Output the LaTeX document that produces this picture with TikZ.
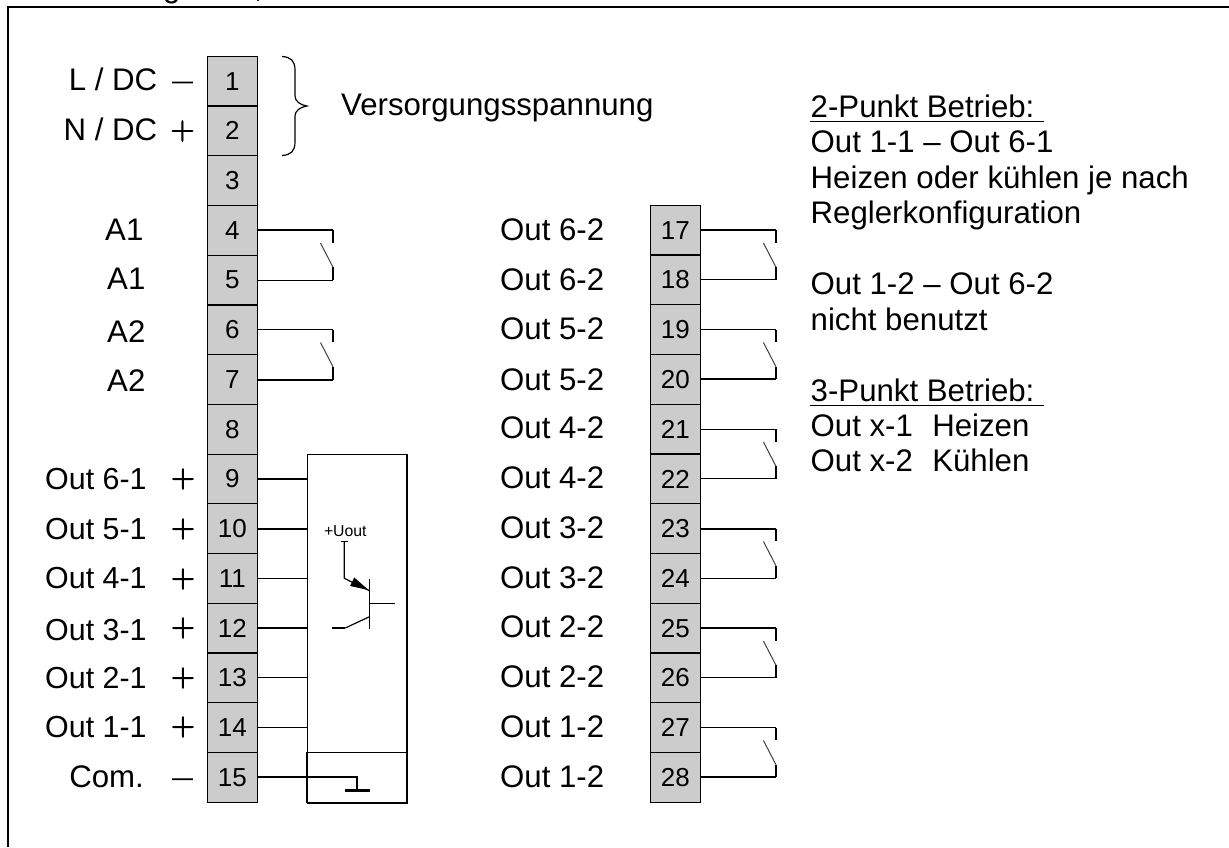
\documentclass[tikz,border=0pt]{standalone}
\usepackage{fontspec}
\newfontfamily\arial{Liberation Sans}
\newfontfamily\signfont[FakeBold=2.5]{Latin Modern Roman}
\definecolor{cellgray}{HTML}{CCCCCC}
\tikzset{
  lab/.style={inner sep=0pt,font=\arial\fontsize{31.2}{36}\selectfont,text=black},
  labl/.style={lab,anchor=base west},
  cellbox/.style={draw=black,line width=1.2pt,fill=cellgray,minimum width=50pt,minimum height=49.74pt,inner sep=0pt,font=\arial\fontsize{26}{30}\selectfont},
  blade/.style={line width=1pt,black!75},
  sgn/.style={inner sep=0pt,font=\signfont\fontsize{33}{36}\selectfont},
  sgnm/.style={inner sep=0pt,font=\signfont\fontsize{42}{44}\selectfont},
}
\begin{document}
\begin{tikzpicture}[x=1pt,y=-1pt]
\useasboundingbox (0,0) rectangle (1229,847);
% clipped line of text above the frame
\begin{scope}
\clip (0,0) rectangle (1229,847);
\node[labl] (topg) at (163,-3) {g};
\node[labl] (topc) at (254,-3) {,};
\end{scope}
\draw[line width=2pt] (8,847) -- (8,6.6) -- (1229,6.6);
% terminal strips
\foreach \n in {1,...,15}{
  \node[cellbox] (c\n) at (232.4,{56.3+(\n-0.5)*49.73}) {\n};
}
\foreach \n in {17,...,28}{
  \node[cellbox] (c\n) at (675.3,{205.3+(\n-16.5)*49.75}) {\n};
}
% brace
\draw[line width=1.2pt] (282,56.5) .. controls (291,57) and (295,61) .. (295,70) -- (295,96)
  .. controls (295,101) and (300,105) .. (307,106) .. controls (300,107) and (295,111) .. (295,116)
  -- (295,142) .. controls (295,151) and (291,155) .. (282,155.5);
\node[labl] (vs) at (341,115.6) {Versorgungsspannung};
% left labels
\node[lab,anchor=base east] (l1) at (157.5,90.7) {L / DC};
\node[lab,anchor=base east] (l2) at (157.5,140.7) {N / DC};
\node[sgnm] (s1) at (182.5,88) {–};
\node[sgn] (s2) at (182.5,131) {+};
\node[labl] (a1) at (105,240) {A1};
\node[labl] (a2) at (107,289) {A1};
\node[labl] (a3) at (107,342) {A2};
\node[labl] (a4) at (107,391.5) {A2};
\foreach \t/\y/\sy in {6/489.3/479,5/539/529,4/588/579,3/640/628,2/688/678,1/737.7/727}{
  \node[labl,font=\arial\fontsize{30.4}{36}\selectfont] (o\t) at (45,\y) {Out \t-1};
  \node[sgn] (p\t) at (183,\sy) {+};
}
\node[lab,anchor=base east] (com) at (144,787.3) {Com.};
\node[sgnm] (s3) at (182.5,784.7) {–};
% right labels
\foreach \t/\y in {17/240,18/290,19/339.3,20/390,21/438.3,22/488.3,23/538.3,24/588.3,25/637.3,26/687.3,27/737.3,28/787.3}{
  \pgfmathtruncatemacro{\k}{6-int((\t-17)/2)}
  \node[labl] (r\t) at (500,\y) {Out \k-2};
}
% relay contacts: terminal a/width, terminal b/width, width of the stubs
\foreach \a/\wa/\b/\wb/\ws in {4/1.9/5/1.1/1.1,6/1.1/7/1.9/1.1,17/1.9/18/1.1/1.9,19/1.1/20/1.9/1.9,21/1.1/22/1.1/1.9,23/1.9/24/1.1/1.9,25/1.9/26/1.1/1.9,27/1.1/28/1.9/1.9}{
  \coordinate (ta\a) at ([xshift=75pt]c\a.east);
  \coordinate (tb\a) at ([xshift=75pt]c\b.east);
  \draw[line width=\wa pt] (c\a.east) -- (ta\a);
  \draw[line width=\ws pt] (ta\a) -- ++(0,12.5) coordinate (ua\a);
  \draw[line width=\wb pt] (c\b.east) -- (tb\a);
  \draw[line width=\ws pt] (tb\a) -- ++(0,-12.8) coordinate (ub\a);
  \draw[blade] (ub\a) -- ++(-12.5,-24.2);
}
% output box
\node[draw=black,line width=1.1pt,minimum width=99.2pt,minimum height=348pt,inner sep=0pt] (box) at (357,628.3) {};
\draw[line width=1.9pt] (box.north east) -- (box.south east) -- (box.south west);
\coordinate (divl) at (box.west |- 0,752.3);
\coordinate (divr) at (box.east |- 0,752.3);
\draw[line width=1.2pt] (divl) -- (divr);
\draw[line width=1.9pt] (divl) -- (box.south west);
\foreach \n/\w in {9/1.1,10/2,11/1.1,12/2,13/1.1,14/1.1}{
  \draw[line width=\w pt] (c\n.east) -- (c\n.east -| box.west);
}
% ground
\coordinate (gnd) at (357,790.5);
\draw[line width=1.9pt] (c15.east) -| (gnd);
\draw[line width=2.6pt] ([xshift=-12.5pt]gnd) -- ([xshift=12.5pt]gnd);
% transistor
\node[inner sep=0pt,anchor=base,font=\arial\fontsize{15.8}{18}\selectfont] (uout) at (345.3,536.7) {+Uout};
\coordinate (e0) at (344.3,541.7);
\coordinate (e1) at (344.3,578.3);
\coordinate (e2) at (369.5,590.7);
\coordinate (bt) at (369.5,579.3);
\coordinate (bb) at (369.5,628.7);
\coordinate (bm) at (369.5,603.3);
\coordinate (bo) at (395,603.3);
\coordinate (cc) at (369.5,616.7);
\coordinate (c0) at (345.3,628);
\coordinate (cl) at (332,628);
\draw[line width=1.2pt] (340.8,541.7) -- (348,541.7);
\draw[line width=1.2pt] (e0) -- (e1) -- (e2);
\fill (368.5,590) -- (354.3,577.5) -- (350,586) -- cycle;
\draw[line width=1.2pt] (bt) -- (bb);
\draw[line width=1.2pt] (bm) -- (bo);
\draw[line width=1.2pt] (cc) -- (c0);
\draw[line width=1.8pt] (c0) -- (cl);
% notes
\node[labl] (n1) at (810.5,117.7) {2-Punkt Betrieb:};
\draw[line width=1.5pt] (810,121.7) -- (1043.7,121.7);
\node[labl] (n2) at (810.5,152.7) {Out 1-1 – Out 6-1};
\node[labl] (n3) at (810.5,188.3) {Heizen oder kühlen je nach};
\node[labl] (n4) at (810.5,223.3) {Reglerkonfiguration};
\node[labl] (n5) at (810.5,294) {Out 1-2 – Out 6-2};
\node[labl] (n6) at (810.5,330) {nicht benutzt};
\node[labl] (n7) at (810.5,401.7) {3-Punkt Betrieb:};
\draw[line width=1.5pt] (810,405.4) -- (1043.7,405.4);
\node[labl] (n8) at (810.5,436.7) {Out x-1\hspace{19.3pt}Heizen};
\node[labl] (n9) at (810.5,471.7) {Out x-2\hspace{19.3pt}Kühlen};
\end{tikzpicture}
\end{document}
